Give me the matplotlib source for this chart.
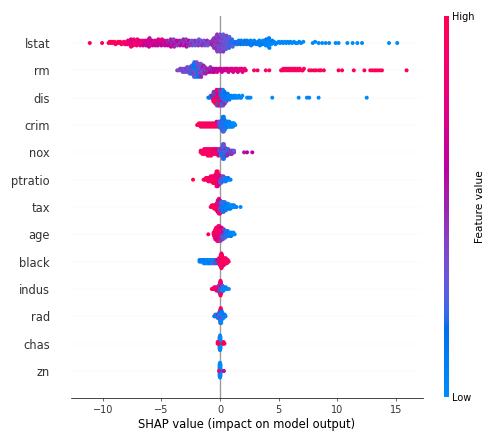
# SHAP summary (beeswarm) plot for the Boston housing model

import numpy as np
import matplotlib
matplotlib.use('Agg')
import matplotlib.pyplot as plt
from matplotlib.colors import LinearSegmentedColormap, Normalize
from matplotlib.cm import ScalarMappable

# each point: (shap value, normalised feature value 0=low .. 1=high)
lstat = [
    (-11.1, 1.0), (-10.05, .95),
    (-9.5, 1.0), (-9.4, .9), (-9.3, .95), (-9.2, 1.0), (-9.1, .85), (-9.0, 1.0), (-8.9, .9), (-8.8, .95),
    (-8.7, 1.0), (-8.6, .85), (-8.5, 1.0), (-8.4, .9), (-8.3, .95), (-8.2, 1.0), (-8.1, .85),
    (-8.0, .8), (-7.95, .9), (-7.9, .75), (-7.85, .85), (-7.8, .95), (-7.75, .7),
    (-7.7, .8), (-7.65, .9), (-7.62, .85), (-7.6, .75), (-7.58, .95), (-7.55, .8), (-7.52, .85), (-7.5, .9), (-7.45, .7),
    (-7.4, .8), (-7.35, .9), (-7.3, .75), (-7.25, .85), (-7.2, .95), (-7.15, .7),
    (-7.1, .8), (-7.05, .9), (-7.0, .75), (-6.95, .85), (-6.9, .95), (-6.85, .7),
    (-6.8, .8), (-6.75, .9), (-6.7, .75), (-6.65, .85), (-6.6, .95), (-6.55, .7),
    (-6.5, .65), (-6.45, .75), (-6.4, .6), (-6.35, .7), (-6.3, .55), (-6.25, .8),
    (-6.2, .65), (-6.15, .75), (-6.12, .7), (-6.1, .6), (-6.08, .8), (-6.05, .7), (-6.0, .55), (-5.95, .8),
    (-5.9, .65), (-5.85, .75), (-5.8, .6), (-5.75, .7), (-5.7, .55), (-5.65, .8),
    (-5.6, .65), (-5.55, .75), (-5.5, .6), (-5.45, .7), (-5.42, .7), (-5.4, .55), (-5.35, .8),
    (-5.3, .65), (-5.25, .75), (-5.2, .6), (-5.15, .7), (-5.1, .55), (-5.05, .8),
    (-5.0, .65), (-4.95, .75), (-4.9, .6), (-4.85, .7), (-4.8, .55), (-4.75, .8),
    (-4.7, .65), (-4.65, .75), (-4.6, .6), (-4.55, .7),
    (-4.5, .5), (-4.45, .6), (-4.4, .45), (-4.35, .55), (-4.3, .65), (-4.25, .4),
    (-4.22, .6), (-4.2, .5), (-4.18, .65), (-4.15, .6), (-4.12, .55), (-4.1, .45), (-4.05, .55), (-4.0, .65), (-3.95, .4),
    (-3.9, .5), (-3.85, .6), (-3.8, .45), (-3.75, .55), (-3.7, .65), (-3.65, .4),
    (-3.6, .5), (-3.55, .6), (-3.5, .45), (-3.45, .55), (-3.4, .65), (-3.35, .4),
    (-3.3, .5), (-3.25, .6), (-3.2, .45), (-3.15, .55), (-3.12, .5), (-3.1, .65), (-3.08, .45), (-3.05, .4),
    (-3.0, .5), (-2.95, .6), (-2.9, .45), (-2.85, .55), (-2.8, .65), (-2.75, .4),
    (-2.7, .5), (-2.65, .6), (-2.6, .45), (-2.55, .55),
    (-2.5, .35), (-2.45, .45), (-2.4, .3), (-2.35, .4), (-2.3, .5), (-2.25, .3),
    (-2.2, .35), (-2.15, .45), (-2.1, .3), (-2.05, .4), (-2.0, .5), (-1.95, .3),
    (-1.9, .35), (-1.85, .45), (-1.8, .3), (-1.75, .4), (-1.7, .5), (-1.65, .3),
    (-1.6, .35), (-1.55, .45), (-1.5, .3), (-1.45, .4), (-1.4, .5), (-1.35, .3),
    (-1.3, .35), (-1.25, .45), (-1.2, .3), (-1.15, .4), (-1.1, .5), (-1.05, .3),
    (-1.0, .4), (-0.9, .4), (-0.8, .45),
    (-0.72, .45), (-0.7, .5), (-0.68, .5), (-0.66, .45), (-0.62, .55), (-0.58, .5), (-0.54, .4), (-0.52, .4), (-0.5, .5),
    (-0.47, .5), (-0.44, .45), (-0.43, .4), (-0.41, .5), (-0.4, .45), (-0.38, .4), (-0.36, .35), (-0.35, .55),
    (-0.33, .5), (-0.32, .45), (-0.3, .4), (-0.29, .35), (-0.26, .5), (-0.25, .45), (-0.23, .4),
    (-0.21, .4), (-0.2, .45), (-0.17, .5), (-0.16, .45), (-0.14, .35), (-0.12, .45), (-0.11, .35), (-0.09, .4),
    (-0.07, .4), (-0.06, .5), (-0.04, .3), (-0.03, .45), (-0.01, .45), (0.0, .35), (0.02, .4),
    (0.04, .35), (0.05, .4), (0.07, .5), (0.09, .3), (0.1, .4), (0.13, .3), (0.14, .4), (0.16, .45),
    (0.18, .3), (0.19, .35), (0.22, .4), (0.23, .35), (0.25, .3), (0.27, .3), (0.28, .45),
    (0.31, .35), (0.33, .35), (0.35, .3), (0.37, .3), (0.39, .4), (0.41, .35), (0.43, .25), (0.45, .25),
    (0.47, .35), (0.5, .3), (0.51, .3), (0.55, .4),
    (0.58, .25), (0.6, .3), (0.62, .3), (0.65, .35), (0.67, .25), (0.69, .25), (0.73, .3), (0.75, .3),
    (0.77, .2), (0.8, .3),
    (0.84, .25), (0.86, .25), (0.88, .2), (0.92, .2), (0.95, .3), (1.02, .2), (1.08, .25),
    (1.15, .2), (1.24, .15), (1.32, .2),
    (1.4, .15), (1.45, .2), (1.5, .2), (1.6, .1), (1.65, .15), (1.7, .2), (1.75, .15), (1.8, .1), (1.9, .15),
    (1.95, .1), (2.0, .1), (2.1, .2), (2.15, .1), (2.2, .15), (2.25, .2), (2.3, .1), (2.4, .05), (2.45, .1),
    (2.5, .15), (2.6, .1), (2.65, .05), (2.7, .15), (2.75, .05), (2.8, .1), (2.9, .05), (2.95, .15), (3.0, .1),
    (3.1, .15), (3.2, .05), (3.25, .1), (3.3, .1), (3.35, .05), (3.4, .05),
    (3.5, .1), (3.55, .05), (3.6, .15), (3.66, .0), (3.72, .1),
    (3.78, .05), (3.82, .1), (3.86, .0), (3.9, .05), (3.94, .15), (3.97, .0), (4.0, .1),
    (4.03, .05), (4.06, .0), (4.09, .1), (4.12, .05), (4.15, .0), (4.18, .1), (4.21, .05), (4.25, .0),
    (4.3, .05), (4.37, .0), (4.44, .1), (4.5, .0),
    (4.6, .05), (4.72, .0), (4.85, .05), (5.0, .0), (5.12, .05), (5.25, .0), (5.38, .05), (5.5, .0), (5.62, .0), (5.75, .05),
    (5.88, .0), (6.0, .05), (6.15, .0), (6.3, .0), (6.45, .05), (6.6, .0), (6.75, .0), (6.9, .05), (7.1, .0),
    (7.9, .0), (8.1, .0), (8.4, .0), (8.7, .0), (9.0, .0), (9.3, .0), (9.85, .0), (10.1, .0),
    (10.85, .0), (11.3, .0), (11.7, .0), (12.1, .0), (14.4, .0), (15.1, .0),
]

rm = [
    (-3.65, .4), (-3.5, .35), (-3.4, .45), (-3.3, .3), (-3.25, .4),
    (-3.18, .35), (-3.12, .45), (-3.06, .3), (-3.0, .4), (-2.95, .25), (-2.9, .45), (-2.85, .3), (-2.8, .4),
    (-2.75, .2), (-2.7, .35), (-2.65, .45), (-2.6, .3),
    (-2.58, .25), (-2.55, .4), (-2.52, .2), (-2.49, .35), (-2.46, .45), (-2.43, .15), (-2.4, .3), (-2.37, .4),
    (-2.35, .2), (-2.33, .35), (-2.31, .1), (-2.29, .45),
    (-2.27, .15), (-2.25, .4), (-2.23, .1), (-2.21, .3), (-2.19, .2), (-2.17, .45), (-2.15, .05), (-2.13, .35), (-2.11, .15), (-2.09, .25),
    (-2.07, .1), (-2.05, .4), (-2.03, .2), (-2.01, .05), (-1.99, .35), (-1.97, .15), (-1.95, .3), (-1.93, .1), (-1.91, .45), (-1.89, .2),
    (-1.87, .25), (-1.85, .1), (-1.83, .4), (-1.81, .15), (-1.79, .3), (-1.77, .2), (-1.75, .45), (-1.73, .25), (-1.71, .35), (-1.69, .4),
    (-1.66, .45), (-1.63, .3), (-1.6, .5), (-1.57, .35), (-1.54, .45), (-1.51, .25), (-1.48, .5), (-1.45, .4), (-1.42, .55), (-1.39, .35),
    (-1.36, .45), (-1.33, .5),
    (-1.28, .45), (-1.22, .55), (-1.17, .4), (-1.11, .5), (-1.05, .55), (-1.0, .45), (-0.94, .5), (-0.88, .6), (-0.82, .45), (-0.77, .55),
    (-0.71, .5), (-0.65, .6), (-0.6, .55), (-0.54, .6),
    (-0.48, .6), (-0.4, .65), (-0.32, .6), (-0.24, .7), (-0.16, .65), (-0.08, .6), (0.0, .7), (0.08, .65), (0.16, .7), (0.24, .6),
    (0.32, .75), (0.4, .65), (0.48, .7), (0.56, .75), (0.64, .65), (0.72, .7), (0.8, .75), (0.88, .7), (0.96, .65), (1.04, .75),
    (1.12, .7), (1.2, .8), (1.28, .7), (1.36, .75), (1.44, .8), (1.52, .7), (1.6, .75), (1.68, .8), (1.76, .7), (1.84, .8),
    (1.92, .75), (2.0, .8), (2.1, .85), (2.2, .8),
    (2.9, .9), (3.2, .85), (3.9, .9), (4.2, .95),
    (5.2, .9), (5.3, .95), (5.4, .85), (5.5, 1.0), (5.6, .9), (5.7, .95), (5.8, .9), (5.9, 1.0), (6.0, .85), (6.1, .95),
    (6.2, .9), (6.3, 1.0), (6.4, .95), (6.5, .9), (6.6, 1.0), (6.7, .85), (6.8, .95), (6.95, .9), (7.05, 1.0), (7.15, .95),
    (7.6, .95), (7.8, 1.0), (8.0, .9), (8.2, .95), (8.45, 1.0), (8.6, .95), (8.85, 1.0),
    (10.1, 1.0), (10.4, .95), (11.4, 1.0), (12.3, 1.0),
    (12.8, 1.0), (13.0, .95), (13.2, 1.0), (13.4, .95), (13.6, 1.0), (13.8, 1.0), (15.9, 1.0),
]

dis = [
    (-1.0, .1), (-0.9, .15), (-0.8, .1),
    (-0.72, .2), (-0.69, .5), (-0.66, .15), (-0.63, .6),
    (-0.6, .8), (-0.58, .2), (-0.56, .9), (-0.54, .5), (-0.52, .85), (-0.5, .15), (-0.48, .95),
    (-0.45, .9), (-0.435, 1.0), (-0.42, .15), (-0.405, .85), (-0.39, .95), (-0.375, .7), (-0.36, 1.0), (-0.345, .2),
    (-0.33, .9), (-0.315, .8), (-0.3, 1.0), (-0.285, .95), (-0.27, .1), (-0.255, .85), (-0.24, 1.0), (-0.225, .9),
    (-0.21, .6), (-0.195, .95), (-0.18, 1.0), (-0.165, .2), (-0.15, .85), (-0.135, .9), (-0.12, 1.0), (-0.105, .75),
    (-0.09, .15), (-0.075, .95), (-0.06, .85), (-0.045, .5), (-0.03, 1.0), (-0.015, .1), (0.0, .8), (0.015, .9),
    (0.03, .2), (0.045, .7), (0.06, .15), (0.075, .95), (0.09, .4), (0.105, .1), (0.12, .85), (0.135, .2),
    (0.15, .5), (0.165, .1), (0.18, .3), (0.195, .15), (0.21, .6), (0.225, .1), (0.24, .2), (0.255, .05),
    (0.27, .4), (0.285, .1), (0.3, .2),
    (0.32, .2), (0.34, .1), (0.36, .3), (0.38, .15), (0.4, .5), (0.42, .1), (0.44, .2), (0.47, .1),
    (0.5, .15), (0.53, .3), (0.56, .1), (0.59, .2), (0.62, .1), (0.66, .15), (0.7, .1), (0.74, .05),
    (0.8, .1), (0.87, .05), (0.95, .1), (1.02, .05), (1.1, .0), (1.17, .05), (1.25, .1), (1.32, .0),
    (1.4, .05), (1.5, .0), (1.6, .05), (1.7, .0), (1.8, .05), (1.9, .0),
    (2.3, .0), (2.45, .05), (2.6, .0), (4.45, .0), (6.7, .0), (7.4, .0), (7.6, .05), (8.4, .0), (12.5, .0),
]

crim = [
    (-1.95, .95),
    (-1.8, 1.0), (-1.8, .9),
    (-1.65, .95), (-1.65, 1.0), (-1.65, .9),
    (-1.5, 1.0), (-1.5, .95), (-1.5, .85),
    (-1.35, .9), (-1.35, 1.0), (-1.35, .95),
    (-1.2, 1.0), (-1.2, .9), (-1.2, .95),
    (-1.05, .95), (-1.05, 1.0), (-1.05, .85),
    (-0.9, 1.0), (-0.9, .9), (-0.9, .95),
    (-0.75, .9), (-0.75, 1.0), (-0.75, .95),
    (-0.6, 1.0), (-0.6, .85), (-0.6, .95),
    (-0.45, .95), (-0.45, .9), (-0.45, 1.0),
    (-0.3, .85), (-0.3, 1.0), (-0.3, .9), (-0.3, .75),
    (-0.15, .9), (-0.15, .8), (-0.15, 1.0), (-0.15, .7),
    (-0.08, .3), (-0.08, .2), (-0.08, .5), (-0.08, .1),
    (0.0, .2), (0.0, .4), (0.0, .1), (0.0, .3),
    (0.08, .15), (0.08, .3), (0.08, .1), (0.08, .4), (0.08, .2),
    (0.16, .1), (0.16, .2), (0.16, .35), (0.16, .05), (0.16, .25), (0.16, .15), (0.16, .4),
    (0.24, .1), (0.24, .2), (0.24, .05), (0.24, .3), (0.24, .15), (0.24, .4), (0.24, .1), (0.24, .25), (0.24, .05), (0.24, .2),
    (0.32, .15), (0.32, .05), (0.32, .25), (0.32, .1), (0.32, .35), (0.32, .2), (0.32, .05), (0.32, .15), (0.32, .3), (0.32, .1),
    (0.4, .1), (0.4, .2), (0.4, .05), (0.4, .3), (0.4, .15), (0.4, .1), (0.4, .25),
    (0.48, .05), (0.48, .15), (0.48, .1), (0.48, .2), (0.48, .05),
    (0.56, .1), (0.56, .05), (0.56, .2), (0.56, .1),
    (0.64, .05), (0.64, .1), (0.64, .15), (0.64, .05),
    (0.72, .1), (0.72, .05), (0.72, .0), (0.72, .1),
    (0.8, .05), (0.8, .1), (0.8, .0), (0.8, .05),
    (0.9, .0), (0.9, .1), (0.9, .05),
    (1.0, .05), (1.0, .0), (1.0, .1),
    (1.1, .0), (1.1, .05), (1.1, .0),
    (1.2, .05), (1.2, .0),
    (1.3, .0),
]

nox = [
    (-1.65, .95), (-1.65, 1.0),
    (-1.5, .9), (-1.5, 1.0), (-1.5, .95),
    (-1.35, 1.0), (-1.35, .85), (-1.35, .95), (-1.35, .9),
    (-1.2, .95), (-1.2, 1.0), (-1.2, .9), (-1.2, .85),
    (-1.05, 1.0), (-1.05, .9), (-1.05, .95), (-1.05, .8), (-1.05, 1.0),
    (-0.9, .9), (-0.9, 1.0), (-0.9, .85), (-0.9, .95), (-0.9, .9),
    (-0.75, 1.0), (-0.75, .9), (-0.75, .95), (-0.75, .85), (-0.75, 1.0),
    (-0.6, .9), (-0.6, .95), (-0.6, .8), (-0.6, 1.0),
    (-0.45, .85), (-0.45, .95), (-0.45, .9), (-0.45, .75),
    (-0.3, .9), (-0.3, .8), (-0.3, 1.0), (-0.3, .7),
    (-0.15, .85), (-0.15, .75), (-0.15, .95), (-0.15, .65), (-0.15, .8),
    (-0.05, .4), (-0.05, .2), (-0.05, .6), (-0.05, .3),
    (0.05, .2), (0.05, .4), (0.05, .1), (0.05, .5), (0.05, .3),
    (0.15, .15), (0.15, .4), (0.15, .2), (0.15, .5), (0.15, .1), (0.15, .35),
    (0.25, .1), (0.25, .3), (0.25, .2), (0.25, .45), (0.25, .15), (0.25, .4), (0.25, .05), (0.25, .25), (0.25, .35), (0.25, .2),
    (0.33, .2), (0.33, .1), (0.33, .4), (0.33, .15), (0.33, .3), (0.33, .05), (0.33, .45), (0.33, .2), (0.33, .1), (0.33, .35),
    (0.42, .15), (0.42, .3), (0.42, .1), (0.42, .45), (0.42, .2), (0.42, .35),
    (0.5, .1), (0.5, .4), (0.5, .2), (0.5, .5), (0.5, .15),
    (0.6, .3), (0.6, .1), (0.6, .45), (0.6, .2), (0.6, .5),
    (0.7, .4), (0.7, .15), (0.7, .5), (0.7, .25),
    (0.8, .45), (0.8, .2), (0.8, .5),
    (0.9, .35), (0.9, .5), (0.9, .2),
    (1.0, .45), (1.0, .3), (1.0, .5),
    (1.1, .4), (1.1, .5),
    (1.2, .45), (1.2, .3),
    (2.05, .55), (2.3, .6), (2.75, .6),
]

ptratio = [
    (-2.3, 1.0),
    (-1.4, .95), (-1.3, 1.0),
    (-1.2, .9), (-1.2, 1.0),
    (-1.1, .95), (-1.1, .85),
    (-1.0, 1.0), (-1.0, .9), (-1.0, .95),
    (-0.9, .9), (-0.9, 1.0), (-0.9, .85),
    (-0.8, 1.0), (-0.8, .95), (-0.8, .9), (-0.8, .8),
    (-0.7, .95), (-0.7, 1.0), (-0.7, .85), (-0.7, .9),
    (-0.6, 1.0), (-0.6, .9), (-0.6, .95), (-0.6, .8), (-0.6, 1.0),
    (-0.5, .9), (-0.5, 1.0), (-0.5, .85), (-0.5, .95), (-0.5, .9),
    (-0.4, 1.0), (-0.4, .9), (-0.4, .95), (-0.4, .85), (-0.4, 1.0), (-0.4, .9),
    (-0.3, .95), (-0.3, 1.0), (-0.3, .9), (-0.3, .85), (-0.3, 1.0), (-0.3, .95), (-0.3, .8), (-0.3, .9), (-0.3, 1.0), (-0.3, .85),
    (-0.2, 1.0), (-0.2, .9), (-0.2, .95), (-0.2, .8), (-0.2, 1.0), (-0.2, .85), (-0.2, .9), (-0.2, .95), (-0.2, .75), (-0.2, 1.0),
    (-0.1, .9), (-0.1, .8), (-0.1, 1.0), (-0.1, .7), (-0.1, .85), (-0.1, .95), (-0.1, .6),
    (0.0, .5), (0.0, .85), (0.0, .3), (0.0, .7), (0.0, .4),
    (0.1, .2), (0.1, .4), (0.1, .1), (0.1, .5), (0.1, .3),
    (0.2, .15), (0.2, .35), (0.2, .1), (0.2, .45),
    (0.3, .1), (0.3, .3), (0.3, .2), (0.3, .4),
    (0.4, .15), (0.4, .05), (0.4, .3),
    (0.5, .1), (0.5, .2), (0.5, .05),
    (0.6, .1), (0.6, .0),
    (0.7, .05), (0.7, .15),
    (0.8, .0), (0.9, .05),
]

tax = [
    (-0.8, .95),
    (-0.7, 1.0), (-0.7, .9),
    (-0.6, .95), (-0.6, 1.0),
    (-0.5, .9), (-0.5, 1.0), (-0.5, .95),
    (-0.4, 1.0), (-0.4, .85), (-0.4, .95),
    (-0.3, .9), (-0.3, 1.0), (-0.3, .95), (-0.3, .8), (-0.3, 1.0),
    (-0.2, 1.0), (-0.2, .9), (-0.2, .95), (-0.2, .7), (-0.2, 1.0), (-0.2, .85), (-0.2, .6), (-0.2, .95),
    (-0.1, .9), (-0.1, 1.0), (-0.1, .5), (-0.1, .95), (-0.1, .85), (-0.1, .4), (-0.1, 1.0), (-0.1, .6), (-0.1, .9), (-0.1, .8),
    (0.0, .5), (0.0, .9), (0.0, .3), (0.0, 1.0), (0.0, .4), (0.0, .85), (0.0, .2), (0.0, .6), (0.0, .95),
    (0.1, .2), (0.1, .1), (0.1, .4), (0.1, .15), (0.1, .5), (0.1, .05),
    (0.2, .1), (0.2, .2), (0.2, .05), (0.2, .3), (0.2, .15), (0.2, .0), (0.2, .4),
    (0.3, .05), (0.3, .15), (0.3, .1), (0.3, .25), (0.3, .0), (0.3, .2), (0.3, .1),
    (0.4, .1), (0.4, .0), (0.4, .2), (0.4, .05), (0.4, .15), (0.4, .3),
    (0.5, .05), (0.5, .15), (0.5, .0), (0.5, .1), (0.5, .2),
    (0.6, .1), (0.6, .0), (0.6, .05), (0.6, .15),
    (0.7, .0), (0.7, .1), (0.7, .05), (0.7, .0),
    (0.8, .05), (0.8, .0), (0.8, .1),
    (0.9, .0), (0.9, .05), (0.9, .1),
    (1.0, .0), (1.0, .05),
    (1.1, .05), (1.1, .0),
    (1.2, .0), (1.2, .05),
    (1.3, .0), (1.4, .05), (1.75, .0),
]

age = [
    (-1.0, 1.0),
    (-0.55, .95), (-0.55, .9),
    (-0.5, 1.0), (-0.5, .85), (-0.5, .95),
    (-0.45, .9), (-0.45, 1.0), (-0.45, .8), (-0.45, .95), (-0.45, .9),
    (-0.4, 1.0), (-0.4, .85), (-0.4, .95), (-0.4, .7), (-0.4, 1.0), (-0.4, .9), (-0.4, .8),
    (-0.33, .95), (-0.33, 1.0), (-0.33, .8), (-0.33, .9), (-0.33, .7), (-0.33, 1.0), (-0.33, .85), (-0.33, .95),
    (-0.25, .9), (-0.25, 1.0), (-0.25, .75), (-0.25, .95), (-0.25, .85), (-0.25, 1.0), (-0.25, .6), (-0.25, .9), (-0.25, .8),
    (-0.15, 1.0), (-0.15, .9), (-0.15, .7), (-0.15, .95), (-0.15, .8), (-0.15, 1.0), (-0.15, .65), (-0.15, .9), (-0.15, .85), (-0.15, .95),
    (-0.05, .9), (-0.05, .75), (-0.05, 1.0), (-0.05, .6), (-0.05, .95), (-0.05, .8), (-0.05, .9), (-0.05, .7), (-0.05, 1.0), (-0.05, .85),
    (0.05, .8), (0.05, .95), (0.05, .6), (0.05, .9), (0.05, .5), (0.05, 1.0), (0.05, .7), (0.05, .85), (0.05, .4),
    (0.15, .7), (0.15, .9), (0.15, .4), (0.15, .8), (0.15, .3), (0.15, .95), (0.15, .5), (0.15, .6),
    (0.25, .5), (0.25, .8), (0.25, .2), (0.25, .6), (0.25, .3), (0.25, .9), (0.25, .4),
    (0.35, .3), (0.35, .5), (0.35, .15), (0.35, .7), (0.35, .2), (0.35, .4),
    (0.45, .2), (0.45, .1), (0.45, .4), (0.45, .15), (0.45, .3),
    (0.55, .1), (0.55, .2), (0.55, .05), (0.55, .3),
    (0.65, .1), (0.65, .05), (0.65, .2), (0.65, .1),
    (0.75, .05), (0.75, .15), (0.75, .0),
    (0.85, .1), (0.85, .0), (0.85, .05),
    (0.95, .05), (0.95, .0), (0.95, .15),
    (1.05, .0), (1.05, .1),
    (1.15, .05), (1.15, .0),
    (1.25, .0),
]

black = [
    (-1.75, .0), (-1.75, .1),
    (-1.63, .05), (-1.63, .15),
    (-1.51, .1), (-1.51, .0),
    (-1.39, .05), (-1.39, .1), (-1.39, .0),
    (-1.27, .0), (-1.27, .15), (-1.27, .05),
    (-1.15, .1), (-1.15, .0), (-1.15, .05),
    (-1.03, .05), (-1.03, .1), (-1.03, .0),
    (-0.91, .0), (-0.91, .05), (-0.91, .15),
    (-0.79, .1), (-0.79, .0), (-0.79, .05),
    (-0.67, .05), (-0.67, .2), (-0.67, .0),
    (-0.55, .1), (-0.55, .0), (-0.55, .3),
    (-0.43, .15), (-0.43, .05), (-0.43, .4),
    (-0.31, .2), (-0.31, .5), (-0.31, .1),
    (-0.19, .3), (-0.19, .6), (-0.19, .15),
    (-0.1, .9), (-0.1, .7), (-0.1, 1.0), (-0.1, .5),
    (-0.02, 1.0), (-0.02, .9), (-0.02, .95), (-0.02, .8), (-0.02, 1.0),
    (0.06, .95), (0.06, 1.0), (0.06, .9), (0.06, 1.0), (0.06, .85), (0.06, .95), (0.06, 1.0), (0.06, .9),
    (0.12, 1.0), (0.12, .95), (0.12, 1.0), (0.12, .9), (0.12, 1.0), (0.12, .95), (0.12, .85), (0.12, 1.0), (0.12, .9), (0.12, 1.0),
    (0.18, .95), (0.18, 1.0), (0.18, .9), (0.18, 1.0), (0.18, .95), (0.18, .85), (0.18, 1.0), (0.18, .9),
    (0.26, 1.0), (0.26, .9), (0.26, .95), (0.26, 1.0), (0.26, .85),
    (0.34, .95), (0.34, 1.0), (0.34, .9), (0.34, 1.0), (0.34, .8),
    (0.42, 1.0), (0.42, .9), (0.42, .95), (0.42, 1.0),
    (0.5, .95), (0.5, 1.0), (0.5, .9), (0.5, .85),
    (0.58, 1.0), (0.58, .95), (0.58, .9),
    (0.66, 1.0), (0.66, .9),
    (0.74, .95),
]

indus = [
    (-0.7, 1.0),
    (-0.6, .95),
    (-0.5, 1.0), (-0.5, .9),
    (-0.4, .95), (-0.4, .85),
    (-0.3, 1.0), (-0.3, .9), (-0.3, .8),
    (-0.2, .9), (-0.2, 1.0), (-0.2, .7),
    (-0.12, .8), (-0.12, .5), (-0.12, 1.0), (-0.12, .3),
    (-0.06, .6), (-0.06, .9), (-0.06, .3), (-0.06, 1.0), (-0.06, .4),
    (0.0, .5), (0.0, .2), (0.0, .9), (0.0, .4), (0.0, 1.0), (0.0, .1), (0.0, .6), (0.0, .95),
    (0.04, .3), (0.04, .5), (0.04, .1), (0.04, .8), (0.04, .2), (0.04, .45), (0.04, .05), (0.04, .9), (0.04, 1.0), (0.04, .95),
    (0.08, .2), (0.08, .4), (0.08, .1), (0.08, .6), (0.08, .15), (0.08, .9), (0.08, 1.0), (0.08, .85),
    (0.14, .1), (0.14, .3), (0.14, .05), (0.14, .5), (0.14, .9),
    (0.2, .05), (0.2, .2), (0.2, .0), (0.2, .4),
    (0.3, .0), (0.3, .1), (0.3, .05),
    (0.4, .05), (0.4, .0),
    (0.5, .0), (0.5, .1),
    (0.6, .0), (0.75, .0),
]

rad = [
    (-0.5, .1),
    (-0.4, .05), (-0.4, .4),
    (-0.3, .1), (-0.3, .0),
    (-0.2, .05), (-0.2, .5), (-0.2, .1),
    (-0.1, .0), (-0.1, .4), (-0.1, .1), (-0.1, .05),
    (-0.02, .1), (-0.02, .0), (-0.02, .45), (-0.02, .05), (-0.02, 1.0), (-0.02, .1),
    (0.02, .0), (0.02, .1), (0.02, .5), (0.02, .05), (0.02, .0), (0.02, .4), (0.02, .1), (0.02, 1.0), (0.02, .05),
    (0.06, .05), (0.06, .0), (0.06, .45), (0.06, .1), (0.06, .0), (0.06, .5), (0.06, .05), (0.06, .1), (0.06, 1.0), (0.06, .95),
    (0.1, .1), (0.1, .05), (0.1, .4), (0.1, .0), (0.1, .1), (0.1, .5), (0.1, .05), (0.1, 1.0), (0.1, .0),
    (0.14, .0), (0.14, .1), (0.14, .45), (0.14, .05), (0.14, .0), (0.14, .1),
    (0.2, .05), (0.2, .0), (0.2, .4), (0.2, .1),
    (0.3, .0), (0.3, .1), (0.3, .05),
    (0.4, .0), (0.4, .1),
    (0.47, .05),
]

chas = [
    (-0.04, .0), (-0.04, .0), (-0.04, .05), (-0.04, .0), (-0.04, .0), (-0.04, .05), (-0.04, .0), (-0.04, .0),
    (0.0, .0), (0.0, .05), (0.0, .0), (0.0, .0), (0.0, .05), (0.0, .0), (0.0, .0), (0.0, .05), (0.0, .0), (0.0, .0),
    (0.04, .0), (0.04, .0), (0.04, .05), (0.04, .0), (0.04, .0), (0.04, .0), (0.04, .05), (0.04, .0),
    (-0.2, 1.0), (-0.2, .95), (-0.14, 1.0), (0.25, 1.0), (0.3, .95), (0.3, 1.0), (0.38, 1.0),
]

zn = [
    (-0.04, .0), (-0.04, .0), (-0.04, .05), (-0.04, .0), (-0.04, .0), (-0.04, .05), (-0.04, .0), (-0.04, .0),
    (0.0, .0), (0.0, .05), (0.0, .0), (0.0, .0), (0.0, .05), (0.0, .0), (0.0, .0), (0.0, .05), (0.0, .0), (0.0, .0),
    (0.04, .0), (0.04, .0), (0.04, .05), (0.04, .0), (0.04, .0), (0.04, .0), (0.04, .05), (0.04, .0),
    (-0.08, .85), (0.3, .6), (0.33, .55),
]

feature_names = ['lstat', 'rm', 'dis', 'crim', 'nox', 'ptratio', 'tax',
                 'age', 'black', 'indus', 'rad', 'chas', 'zn']
feature_points = [lstat, rm, dis, crim, nox, ptratio, tax,
                  age, black, indus, rad, chas, zn]


def lch_to_rgb(l, c, h):
    # CIE LCh -> Lab -> XYZ (D65) -> sRGB
    a = c * np.cos(h)
    b = c * np.sin(h)
    fy = (l + 16.) / 116.
    f = np.array([a / 500. + fy, fy, max(fy - b / 200., 0)])
    f = np.where(f > 0.2068966, f ** 3, (f - 16. / 116.) / 7.787)
    xyz = f * np.array([0.95047, 1.0, 1.08883])
    m = np.array([[3.24048134, -1.53715152, -0.49853633],
                  [-0.96925495, 1.87599, 0.04155593],
                  [0.05564664, -0.20404134, 1.05731107]])
    rgb = m @ xyz
    rgb = np.where(rgb > 0.0031308, 1.055 * np.abs(rgb) ** (1 / 2.4) - 0.055, 12.92 * rgb)
    return np.clip(rgb, 0, 1)


# shap's red_blue colour map
blue_lch = [54., 70., 4.6588]
red_lch = [54., 90., 0.35470565 + 2 * np.pi]
l_mid = 40.
l_vals = np.concatenate([np.linspace(blue_lch[0], l_mid, 50), np.linspace(l_mid, red_lch[0], 50)])
c_vals = np.linspace(blue_lch[1], red_lch[1], 100)
h_vals = np.linspace(blue_lch[2], red_lch[2], 100)
cmap = LinearSegmentedColormap.from_list(
    'red_blue', [lch_to_rgb(l, c, h) for l, c, h in zip(l_vals, c_vals, h_vals)])


def swarm_offsets(shaps, nbins=100, row_height=0.4):
    # same layering as shap.summary_plot
    quant = np.round(nbins * (shaps - shaps.min()) / (shaps.max() - shaps.min() + 1e-8))
    inds = np.argsort(quant, kind='stable')
    layer = 0
    last_bin = -1
    ys = np.zeros(len(shaps))
    for ind in inds:
        if quant[ind] != last_bin:
            layer = 0
        ys[ind] = np.ceil(layer / 2) * ((layer % 2) * 2 - 1)
        layer += 1
        last_bin = quant[ind]
    ys *= 0.9 * (row_height / np.max(ys + 1))
    return ys


dpi = 64
fig = plt.figure(figsize=(501 / dpi, 436 / dpi), dpi=dpi)
ax = fig.add_axes([0.1417, 0.0865, 0.702, 0.8775])
cax = fig.add_axes([0.8868, 0.0900, 0.0094, 0.8740])

n = len(feature_names)
ax.axvline(x=0, color='#999999', zorder=-1)
for i, pts in enumerate(feature_points):
    pos = n - 1 - i
    ax.axhline(y=pos, color='#cccccc', lw=0.5, dashes=(1, 5), zorder=-1)
    shaps = np.array([p[0] for p in pts])
    vals = np.array([p[1] for p in pts])
    ys = swarm_offsets(shaps)
    ax.scatter(shaps, pos + ys, c=vals, cmap=cmap, vmin=0, vmax=1, s=20,
               alpha=1, linewidth=0, zorder=3, rasterized=True)

ax.set_yticks(range(n))
ax.set_yticklabels(feature_names[::-1], fontsize=13)
ax.set_ylim(-1, n)
ax.set_xlim(-12.7, 17.27)
ax.set_xlabel('SHAP value (impact on model output)', fontsize=13)
ax.xaxis.set_ticks_position('bottom')
ax.tick_params(color='#333333', labelcolor='#333333')
ax.tick_params('y', length=0, pad=23.5)
ax.tick_params('x', labelsize=11)
for side in ['right', 'top', 'left']:
    ax.spines[side].set_visible(False)

cb = fig.colorbar(ScalarMappable(norm=Normalize(0, 1), cmap=cmap), cax=cax, ticks=[0, 1])
cb.set_ticklabels(['Low', 'High'])
cb.set_label('Feature value', size=12, labelpad=0)
cb.ax.tick_params(labelsize=11, length=0)
cb.outline.set_visible(False)

fig.savefig('out.png', dpi=dpi)
